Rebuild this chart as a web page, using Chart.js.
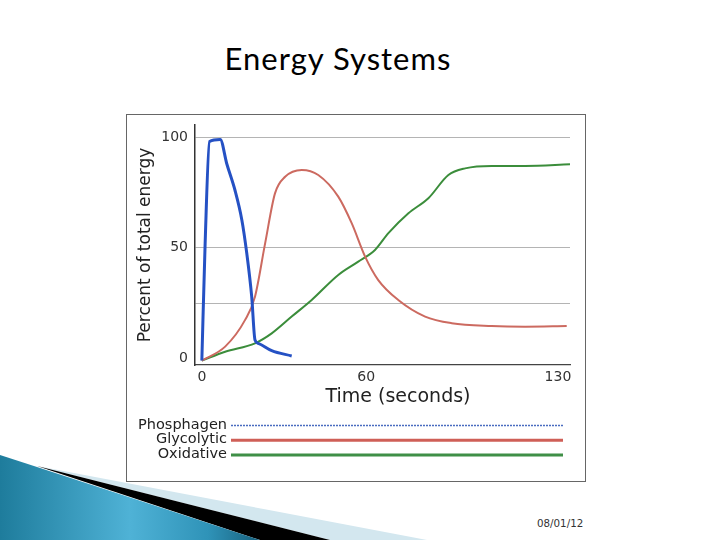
<!DOCTYPE html>
<html>
<head>
<meta charset="utf-8">
<script src="https://cdn.jsdelivr.net/npm/chart.js@4.4.1/dist/chart.umd.min.js"></script>
<style>
  html, body { margin: 0; padding: 0; background: #fff; }
  body { width: 720px; height: 540px; position: relative; overflow: hidden; font-family: "DejaVu Sans", sans-serif; }
  #deco { position: absolute; left: 0; top: 0; }
  #title { position: absolute; left: 0; top: 40px; width: 676px; text-align: center; font: 31px Lato, sans-serif; letter-spacing: 1px; line-height: 36px; color: #000; }
  #wrap { position: absolute; left: 126px; top: 114px; width: 460px; height: 368px; background: #fff; }
  #frame { position: absolute; left: 126px; top: 114px; width: 460px; height: 368px; box-sizing: border-box; border: 1.5px solid #666; pointer-events: none; }
  #date { position: absolute; left: 537px; top: 517px; font: 10.3px "DejaVu Sans", sans-serif; color: #333; }
</style>
</head>
<body>
<svg id="deco" width="720" height="540">
  <defs>
    <linearGradient id="teal" x1="0" y1="0" x2="1" y2="0">
      <stop offset="0" stop-color="#1e7c9c"/>
      <stop offset="0.5" stop-color="#4fb2d6"/>
      <stop offset="0.8" stop-color="#2f93b8"/>
      <stop offset="1" stop-color="#17617e"/>
    </linearGradient>
  </defs>
  <polygon points="37,466 427,540 330,540" fill="#d3e7ef"/>
  <polygon points="37,466 330,540 260,540" fill="#000"/>
  <polygon points="0,455 37,467 260,540 0,540" fill="url(#teal)"/>
</svg>
<div id="title">Energy Systems</div>
<div id="wrap"><canvas id="energyChart" width="460" height="368"></canvas></div>
<div id="frame"></div>
<div id="date">08/01/12</div>
<script>
// values (time in s, share in %)
const phosTime = [0, 1.2, 2.8, 6.7, 9.1, 12.1, 14.6, 16.4, 18.2, 19.4, 20.6, 25.5, 32.8];
const phosPct  = [-1, 52, 98, 99, 88, 76, 62.6, 47.5, 27.9, 8.3, 6.8, 3.5, 1.1];

const glyTime = [0, 8.5, 15.8, 19.4, 23.1, 26.7, 30.4, 36.5, 42.5, 49.8, 54.7, 59.6, 64.4, 71.7, 81.5, 91.2, 105.8, 118, 133.2];
const glyPct  = [-1, 5.3, 17.4, 27.9, 52, 74.6, 82.1, 85.2, 82.9, 73.1, 61.1, 46, 35.4, 26.4, 18.9, 15.9, 14.6, 14.3, 14.6];

const oxiTime = [0, 8.5, 19.4, 25.5, 32.8, 40.1, 49.8, 57.1, 63.2, 68.1, 75.4, 82.7, 90, 96.1, 105.8, 118, 134.4];
const oxiPct  = [-1, 3, 6.8, 11.3, 18.9, 26.4, 37.7, 43.7, 49, 56.6, 65.6, 72.4, 82.9, 85.9, 87, 87, 87.7];

const xTicks = [0, 60, 130];
const yTicks = [0, 25, 50, 100];
const yTickLabels = ['0', '', '50', '100'];
const xTitle = 'Time (seconds)';

const makeXY = (xs, ys) => xs.map((x, i) => ({ x: x, y: ys[i] }));

// x title + legend rows ("label ——— line") under the axis
const belowAxis = {
    id: 'belowAxis',
    afterDraw(chart) {
        const { ctx, chartArea } = chart;
        ctx.save();
        ctx.fillStyle = '#222';
        ctx.font = '19px "DejaVu Sans"';
        ctx.textAlign = 'center';
        ctx.textBaseline = 'middle';
        ctx.fillText(xTitle, chartArea.left + 203, chartArea.bottom + 32);

        ctx.font = '14.5px "DejaVu Sans"';
        ctx.textAlign = 'right';
        chart.data.datasets.forEach((ds, i) => {
            const y = chartArea.bottom + 60 + i * 14.7;
            ctx.fillStyle = '#222';
            ctx.fillText(ds.label, chartArea.left + 32, y);
            ctx.strokeStyle = ds.legendColor;
            ctx.lineWidth = ds.legendWidth;
            ctx.setLineDash(ds.legendDash);
            ctx.beginPath();
            ctx.moveTo(chartArea.left + 36, y + 0.5);
            ctx.lineTo(chartArea.right - 7, y + 0.5);
            ctx.stroke();
        });
        ctx.restore();
    }
};

const ctx = document.getElementById('energyChart');

new Chart(ctx, {
    type: 'line',
    data: {
        datasets: [{
            label: 'Phosphagen',
            data: makeXY(phosTime, phosPct),
            borderColor: '#2551c4',
            borderWidth: 3,
            legendColor: '#4a6cc0',
            legendWidth: 1.6,
            legendDash: [2, 1]
        }, {
            label: 'Glycolytic',
            data: makeXY(glyTime, glyPct),
            borderColor: '#cc6a60',
            borderWidth: 2,
            legendColor: '#cf5f57',
            legendWidth: 3,
            legendDash: []
        }, {
            label: 'Oxidative',
            data: makeXY(oxiTime, oxiPct),
            borderColor: '#3b8d3b',
            borderWidth: 2,
            legendColor: '#3f8f47',
            legendWidth: 3,
            legendDash: []
        }]
    },
    options: {
        responsive: false,
        animation: false,
        elements: {
            point: { radius: 0 },
            line: { cubicInterpolationMode: 'monotone', fill: false }
        },
        layout: { padding: { left: 0, top: 11, right: 16, bottom: 67 } },
        plugins: {
            legend: { display: false },
            tooltip: { enabled: false }
        },
        scales: {
            x: {
                type: 'linear',
                min: -2.5,
                max: 134.4,
                afterBuildTicks: s => { s.ticks = xTicks.map(v => ({ value: v })); },
                afterFit: s => { s.height = 50; s.paddingLeft = 0; s.paddingRight = 0; },
                grid: { color: 'transparent', drawTicks: false },
                border: { display: true, color: '#444', width: 1.2, dash: [1, 1] },
                ticks: { font: { family: 'DejaVu Sans', size: 14 }, color: '#333', padding: 4, maxRotation: 0 }
            },
            y: {
                min: -3,
                max: 105.5,
                afterBuildTicks: s => { s.ticks = yTicks.map(v => ({ value: v })); },
                afterFit: s => { s.width = 69; s.paddingTop = 0; s.paddingBottom = 0; },
                grid: {
                    color: c => (c.tick && c.tick.value === 0) ? 'transparent' : '#b4b4b4',
                    drawTicks: false
                },
                border: { display: true, color: '#333', width: 1.5 },
                ticks: {
                    font: { family: 'DejaVu Sans', size: 14 },
                    color: '#333',
                    padding: 7,
                    callback: v => yTickLabels[yTicks.indexOf(v)]
                },
                title: {
                    display: true,
                    text: 'Percent of total energy',
                    font: { family: 'DejaVu Sans', size: 17 },
                    color: '#222',
                    padding: { top: 9, bottom: 0 }
                }
            }
        }
    },
    plugins: [belowAxis]
});
</script>
</body>
</html>
